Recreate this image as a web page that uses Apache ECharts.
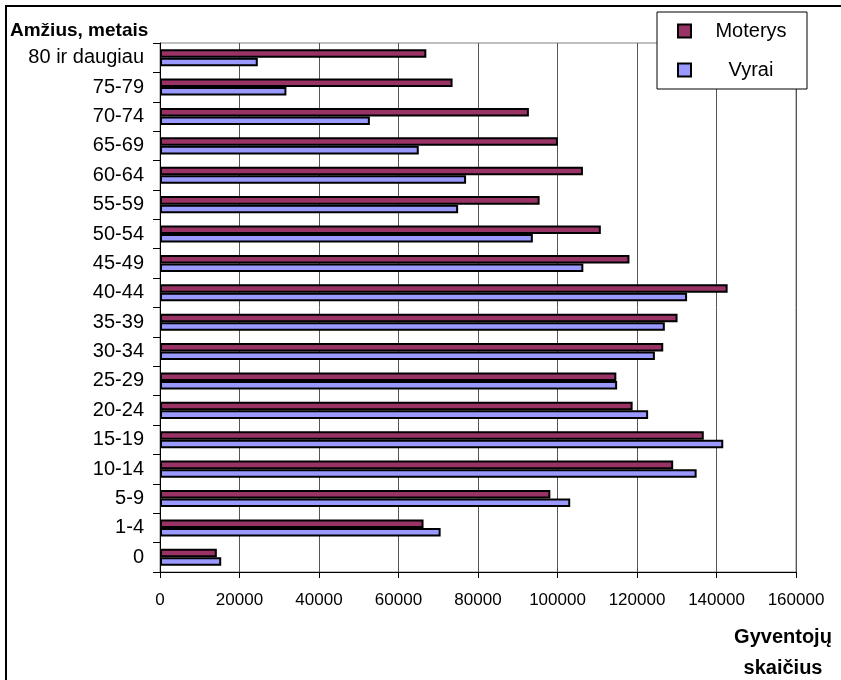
<!DOCTYPE html>
<html>
<head>
<meta charset="utf-8">
<script src="https://cdn.jsdelivr.net/npm/echarts@6/dist/echarts.min.js"></script>
<style>html,body{margin:0;padding:0;background:#fff;}#c{width:841px;height:680px;}</style>
</head>
<body>
<div id="c"></div>
<script>
const categories = ['0','1-4','5-9','10-14','15-19','20-24','25-29','30-34','35-39','40-44','45-49','50-54','55-59','60-64','65-69','70-74','75-79','80 ir daugiau'];
const moterys = [14300, 66300, 98200, 129100, 136800, 118900, 114800, 126600, 130200, 142800, 118100, 110900, 95500, 106400, 100100, 92800, 73600, 67000];
const vyrai = [15400, 70600, 103200, 135000, 141700, 122800, 115000, 124500, 127000, 132600, 106500, 93800, 75000, 77000, 65100, 52800, 31800, 24600];
const xTicks = [0, 20000, 40000, 60000, 80000, 100000, 120000, 140000, 160000];
const seriesNames = ['Moterys', 'Vyrai'];
const yTitle = 'Amžius, metais';
const xTitle = 'Gyventojų\nskaičius';

const FONT = '"Liberation Sans", Arial, sans-serif';
const chart = echarts.init(document.getElementById('c'), null, {renderer: 'canvas'});
chart.setOption({
  animation: false,
  backgroundColor: '#fff',
  textStyle: {fontFamily: FONT, color: '#000'},
  title: [
    {text: yTitle, left: 10, top: 21, padding: 0,
     textStyle: {fontFamily: FONT, fontSize: 19, fontWeight: 'bold', color: '#000'}},
    {text: xTitle, left: 783, top: 622, padding: 0, textAlign: 'center',
     textStyle: {fontFamily: FONT, fontSize: 20, fontWeight: 'bold', color: '#000', lineHeight: 31}}
  ],
  graphic: [
    {type: 'rect', z: 100, silent: true,
     shape: {x: 6, y: 6, width: 900, height: 800},
     style: {fill: null, stroke: '#000', lineWidth: 2}}
  ],
  legend: {
    data: seriesNames,
    orient: 'vertical',
    icon: 'rect',
    left: 657, top: 12,
    padding: [9, 1, 9, 20],
    itemGap: 19,
    itemWidth: 13, itemHeight: 13,
    backgroundColor: '#fff',
    borderColor: '#000', borderWidth: 1,
    z: 10,
    formatter: '{a|{name}}',
    textStyle: {
      fontFamily: FONT, fontSize: 20, color: '#000',
      rich: {a: {width: 110, align: 'center', fontSize: 20, lineHeight: 20, fontFamily: FONT, color: '#000'}}
    }
  },
  grid: {left: 160, right: 45, top: 43, bottom: 108, show: true, borderColor: '#808080', borderWidth: 1, backgroundColor: 'transparent'},
  xAxis: {
    type: 'value', min: 0, max: 160000, interval: 20000,
    axisLine: {show: true, lineStyle: {color: '#000', width: 1}},
    axisTick: {show: true, length: 6, lineStyle: {color: '#000'}},
    axisLabel: {fontFamily: FONT, fontSize: 17, color: '#000', margin: 20,
      formatter: v => xTicks.includes(v) ? String(v) : ''},
    splitLine: {show: true, lineStyle: {color: '#555', width: 1}}
  },
  yAxis: {
    type: 'category', data: categories,
    axisLine: {show: true, lineStyle: {color: '#000', width: 1}},
    axisTick: {show: true, length: 7, lineStyle: {color: '#000'}},
    axisLabel: {fontFamily: FONT, fontSize: 20, color: '#000', margin: 16},
    splitLine: {show: false}
  },
  series: [
    {name: 'Moterys', type: 'bar', data: moterys, barGap: '0%', barCategoryGap: '42%',
     itemStyle: {color: '#993366', borderColor: '#000', borderWidth: 2}},
    {name: 'Vyrai', type: 'bar', data: vyrai, barGap: '0%', barCategoryGap: '42%',
     itemStyle: {color: '#9999FF', borderColor: '#000', borderWidth: 2}}
  ]
});
</script>
</body>
</html>
